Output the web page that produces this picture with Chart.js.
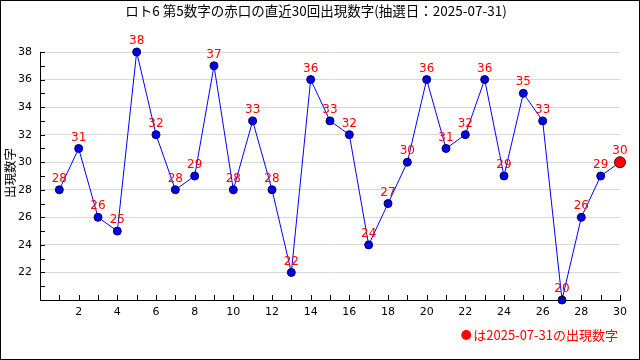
<!DOCTYPE html>
<html><head><meta charset="utf-8">
<script src="https://cdn.jsdelivr.net/npm/chart.js@4"></script>
<style>html,body{margin:0;padding:0;background:#fff}canvas{display:block}</style>
</head><body>
<div style="width:640px;height:360px"><canvas id="c" width="640" height="360"></canvas></div>
<script>
const titleText = 'ロト6 第5数字の赤口の直近30回出現数字(抽選日：2025-07-31)';
const yTitle = '出現数字';
const footerText = 'は2025-07-31の出現数字';
const draws = [1,2,3,4,5,6,7,8,9,10,11,12,13,14,15,16,17,18,19,20,21,22,23,24,25,26,27,28,29,30];
const values = [28,31,26,25,38,32,28,29,37,28,33,28,22,36,33,32,24,27,30,36,31,32,36,29,35,33,20,26,29,30];
const yTickLabels = [22,24,26,28,30,32,34,36,38];
const xTickLabels = [2,4,6,8,10,12,14,16,18,20,22,24,26,28,30];

const pts = draws.map((d,i)=>({x:d,y:values[i]}));
const last = pts.length-1;
const JP = '"Noto Sans CJK JP", "DejaVu Sans", sans-serif';

const deco = {
  id:'deco',
  afterDraw(chart){
    const c = chart.ctx, a = chart.chartArea;
    const xs = chart.scales.x, ys = chart.scales.y;
    c.save();
    // inward ticks
    c.strokeStyle='#000'; c.lineWidth=1;
    c.beginPath();
    for(let v=ys.min; v<=ys.max; v++){
      const y=Math.round(ys.getPixelForValue(v))+0.5;
      c.moveTo(a.left,y); c.lineTo(a.left+5,y);
    }
    for(let v=xs.min+1; v<=xs.max; v++){
      const x=Math.round(xs.getPixelForValue(v))+0.5;
      c.moveTo(x,a.bottom); c.lineTo(x,a.bottom-5);
    }
    c.stroke();
    // data labels
    const meta = chart.getDatasetMeta(0);
    c.fillStyle='#ff0000'; c.font='12px "DejaVu Sans", sans-serif';
    c.textAlign='center'; c.textBaseline='bottom';
    meta.data.forEach((p,i)=>{ c.fillText(String(values[i]), p.x, p.y-5); });
    // title
    c.fillStyle='#000'; c.font='13.5px '+JP; c.textAlign='center'; c.textBaseline='middle';
    c.fillText(titleText, 316, 11);
    // y title
    c.save(); c.translate(10, 173); c.rotate(-Math.PI/2);
    c.font='12.5px '+JP; c.fillText(yTitle,0,0); c.restore();
    // footer
    c.font='13px '+JP; c.fillStyle='#ff0000'; c.textAlign='right';
    c.fillText(footerText, 618, 335);
    const w = c.measureText(footerText).width;
    c.beginPath(); c.arc(618-w-7, 335, 5, 0, Math.PI*2); c.fill();
    // frame
    c.strokeStyle='#000'; c.lineWidth=1; c.strokeRect(0.5,0.5,639,359);
    c.restore();
  }
};

new Chart(document.getElementById('c'), {
  type:'line',
  data:{datasets:[{
    data:pts,
    borderColor:'#0000ff', borderWidth:1, tension:0,
    pointBackgroundColor: pts.map((p,i)=> i===last ? '#ff0000' : '#0000ee'),
    pointBorderColor: pts.map((p,i)=> i===last ? '#550000' : '#000055'),
    pointBorderWidth:1,
    pointRadius: pts.map((p,i)=> i===last ? 5.5 : 4),
    clip:false
  }]},
  options:{
    responsive:false, animation:false,
    layout:{padding:{left:0,right:20,top:52,bottom:0}},
    plugins:{legend:{display:false},tooltip:{enabled:false},title:{display:false}},
    scales:{
      x:{type:'linear', min:0, max:30,
        afterFit(s){s.height=60;},
        grid:{display:false, drawTicks:false},
        border:{display:true,color:'#000',width:1},
        ticks:{stepSize:1, autoSkip:false, maxRotation:0, padding:6, color:'#000',
          font:{family:'"DejaVu Sans", sans-serif', size:11},
          callback:(v)=> xTickLabels.includes(v) ? String(v) : ''}
      },
      y:{type:'linear', min:20, max:38,
        afterFit(s){s.width=40;},
        grid:{drawTicks:false, lineWidth:1,
          color:(ctx)=> (ctx.tick && yTickLabels.includes(ctx.tick.value)) ? '#d8d8d8' : 'rgba(0,0,0,0)'},
        border:{display:true,color:'#000',width:1},
        ticks:{stepSize:1, autoSkip:false, padding:8, color:'#000',
          font:{family:'"DejaVu Sans", sans-serif', size:11},
          callback:(v)=> yTickLabels.includes(v) ? String(v) : ''}
      }
    }
  },
  plugins:[deco]
});
</script>
</body></html>
